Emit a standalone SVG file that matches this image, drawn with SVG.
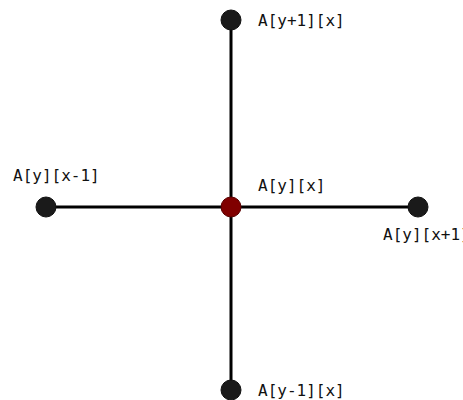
<svg xmlns="http://www.w3.org/2000/svg" width="463" height="400" viewBox="0 0 463 400">
<style>
.edge{stroke:#000;stroke-width:3;fill:none}
.node{fill:#1a1a1a;stroke:#111;stroke-width:1}
.center{fill:#800000;stroke:#5a0000;stroke-width:1}
text{font-family:"DejaVu Sans Mono","Liberation Mono",monospace;font-size:16px;fill:#111}
</style>
<rect width="463" height="400" fill="#fff"/>
<g id="connectors">
<line class="edge" x1="231" y1="20" x2="231" y2="390"/>
<line class="edge" x1="46" y1="207" x2="418" y2="207"/>
</g>
<g id="top"><circle class="node" cx="231" cy="20" r="10"/><text x="258" y="26">A[y+1][x]</text></g>
<g id="left"><circle class="node" cx="46" cy="207" r="10"/><text x="13" y="181">A[y][x-1]</text></g>
<g id="right"><circle class="node" cx="418" cy="207" r="10"/><text x="383" y="240">A[y][x+1]</text></g>
<g id="bottom"><circle class="node" cx="231" cy="390" r="10"/><text x="258" y="396">A[y-1][x]</text></g>
<g id="center"><circle class="center" cx="231" cy="207" r="10"/><text x="258" y="191">A[y][x]</text></g>
</svg>
